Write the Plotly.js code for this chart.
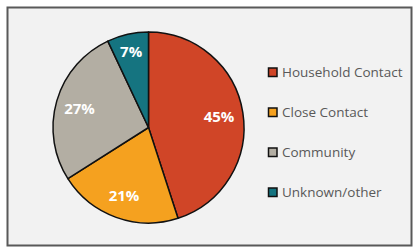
<!DOCTYPE html>
<html>
<head>
<meta charset="utf-8">
<script src="https://cdn.plot.ly/plotly-3.0.1.min.js"></script>
<style>
html,body{margin:0;padding:0;background:#fff;}
#chart{width:420px;height:248px;}
</style>
</head>
<body>
<div id="chart"></div>
<script>
var categories = ["Household Contact", "Close Contact", "Community", "Unknown/other"];
var shares = [45, 21, 27, 7];
var colors = ["#D04527", "#F5A11F", "#B3AEA3", "#157480"];

var W = 420, H = 248;
function px(x){ return x / W; }
function py(y){ return 1 - y / H; }
var pieDomain = { x: [px(53), px(244)], y: [py(223), py(32)] };

var slices = {
  type: "pie",
  labels: categories,
  values: shares,
  sort: false,
  direction: "clockwise",
  rotation: 0,
  marker: { colors: colors, line: { color: "#111111", width: 1.5 } },
  textinfo: "none",
  hoverinfo: "none",
  showlegend: false,
  domain: pieDomain
};

// transparent ring over the pie, used only to place the percentage labels
var labelsRing = {
  type: "pie",
  labels: categories,
  values: shares,
  sort: false,
  direction: "clockwise",
  rotation: 0,
  hole: 0.5,
  marker: { colors: categories.map(function(){ return "rgba(0,0,0,0)"; }), line: { width: 0 } },
  texttemplate: "%{value}%",
  textinfo: "text",
  textposition: "inside",
  insidetextorientation: "horizontal",
  insidetextfont: { family: "Open Sans, sans-serif", size: 15, color: "#ffffff", weight: "bold" },
  hoverinfo: "none",
  showlegend: false,
  domain: pieDomain
};

var shapes = [{
  type: "rect", xref: "paper", yref: "paper", layer: "below",
  x0: px(7.5), x1: px(411.5), y0: py(245.5), y1: py(7.5),
  line: { color: "#595959", width: 2 }, fillcolor: "#F2F2F2"
}];
var annotations = [];
var legendTop = 72, legendStep = 40;
categories.forEach(function(c, i){
  var yc = legendTop + i * legendStep;
  shapes.push({
    type: "rect", xref: "paper", yref: "paper",
    x0: px(268.5), x1: px(277), y0: py(yc + 4.5), y1: py(yc - 4),
    line: { color: "#111111", width: 1.5 }, fillcolor: colors[i]
  });
  annotations.push({
    xref: "paper", yref: "paper", x: px(280), y: py(yc),
    xanchor: "left", yanchor: "middle", showarrow: false,
    text: c, font: { family: "Open Sans, sans-serif", size: 13.5, color: "#595959" }
  });
});

var layout = {
  width: W, height: H,
  margin: { l: 0, r: 0, t: 0, b: 0 },
  paper_bgcolor: "#ffffff",
  showlegend: false,
  shapes: shapes,
  annotations: annotations
};

Plotly.newPlot("chart", [slices, labelsRing], layout, { displayModeBar: false, staticPlot: true });
</script>
</body>
</html>
